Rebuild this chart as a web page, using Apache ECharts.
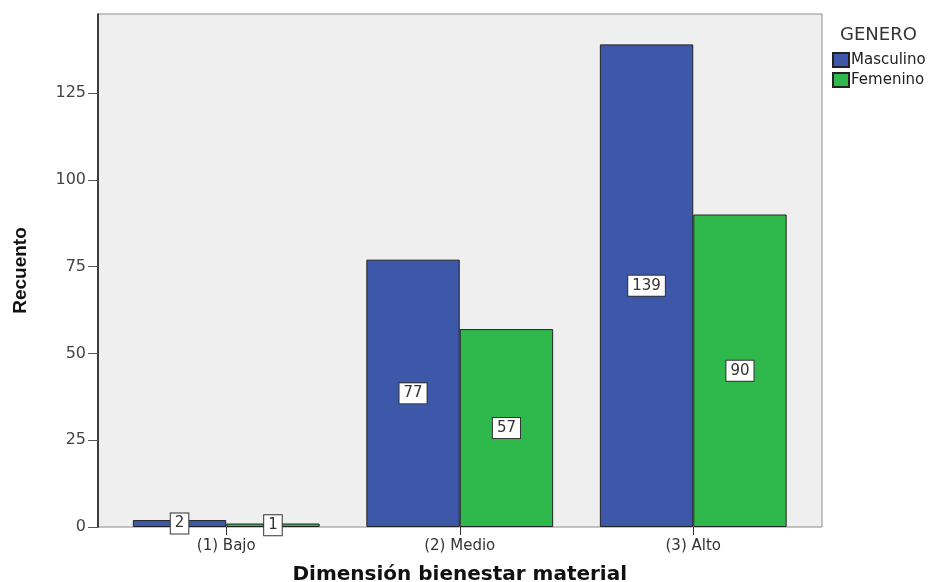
<!DOCTYPE html>
<html>
<head>
<meta charset="utf-8">
<script src="https://cdn.jsdelivr.net/npm/echarts@6/dist/echarts.min.js"></script>
<style>
html,body{margin:0;padding:0;background:#fff;}
#c{width:937px;height:582px;}
</style>
</head>
<body>
<div id="c"></div>
<script>
const categories = ['(1) Bajo', '(2) Medio', '(3) Alto'];
const masculino = [2, 77, 139];
const femenino = [1, 57, 90];
const yTicks = [0, 25, 50, 75, 100, 125];
const seriesNames = ['Masculino', 'Femenino'];
const legendTitle = 'GENERO';
const xTitle = 'Dimensión bienestar material';
const yTitle = 'Recuento';

const YMAX = 147.75;
const chart = echarts.init(document.getElementById('c'));
const labelStyle = {
  show: true,
  position: 'inside',
  color: '#333',
  fontFamily: 'DejaVu Sans',
  fontSize: 15,
  backgroundColor: '#fff',
  borderColor: '#333',
  borderWidth: 1,
  padding: [3, 4, 2, 4]
};
chart.setOption({
  animation: false,
  backgroundColor: '#fff',
  title: {
    text: legendTitle,
    left: 835, top: 21,
    textStyle: {fontFamily: 'DejaVu Sans', fontSize: 18, fontWeight: 'normal', color: '#333'}
  },
  legend: {
    data: seriesNames,
    orient: 'vertical',
    left: 827, top: 47,
    icon: 'rect',
    itemWidth: 16, itemHeight: 14,
    itemGap: 4,
    textStyle: {fontFamily: 'DejaVu Sans', fontSize: 15, color: '#222', padding: [0,0,0,-3]}
  },
  grid: [
    {left: 98, top: 14, width: 724, height: 513, outerBoundsMode: 'none', containLabel: false,
     show: true, backgroundColor: '#efefef', borderColor: '#8c8c8c', borderWidth: 1},
    {left: 109.5, top: 14, width: 700.5, height: 513, outerBoundsMode: 'none', containLabel: false}
  ],
  xAxis: [
    {gridIndex: 0, type: 'category', data: [''], show: false},
    {gridIndex: 1, type: 'category', data: categories,
     axisLine: {show: false},
     axisTick: {show: true, alignWithLabel: true, length: 8, lineStyle: {color: '#333', width: 1}},
     axisLabel: {color: '#333', fontFamily: 'DejaVu Sans', fontSize: 15, margin: 12},
     name: xTitle, nameLocation: 'middle', nameGap: 38,
     nameTextStyle: {fontFamily: 'DejaVu Sans', fontWeight: 'bold', fontSize: 20, color: '#111'}
    }
  ],
  yAxis: [
    {gridIndex: 0, type: 'value', min: 0, max: YMAX,
     splitLine: {show: false},
     axisLine: {show: true, lineStyle: {color: '#111', width: 1.5}},
     axisTick: {show: true, length: 10, customValues: yTicks, lineStyle: {color: '#555'}},
     axisLabel: {show: true, customValues: yTicks, color: '#444', fontFamily: 'DejaVu Sans', fontSize: 16, margin: 12},
     name: yTitle, nameLocation: 'middle', nameGap: 68, nameRotate: 90,
     nameTextStyle: {fontFamily: 'Liberation Sans', fontWeight: 'bold', fontSize: 19, color: '#111'}
    },
    {gridIndex: 1, type: 'value', min: 0, max: YMAX, show: false, splitLine: {show: false}}
  ],
  series: [
    {name: seriesNames[0], type: 'bar', xAxisIndex: 1, yAxisIndex: 1, data: masculino,
     barGap: '0%', barCategoryGap: '20%',
     itemStyle: {color: '#3d57a9', borderColor: '#222', borderWidth: 1},
     label: labelStyle},
    {name: seriesNames[1], type: 'bar', xAxisIndex: 1, yAxisIndex: 1, data: femenino,
     barGap: '0%', barCategoryGap: '20%',
     itemStyle: {color: '#2fb84b', borderColor: '#222', borderWidth: 1},
     label: labelStyle}
  ]
});
</script>
</body>
</html>
